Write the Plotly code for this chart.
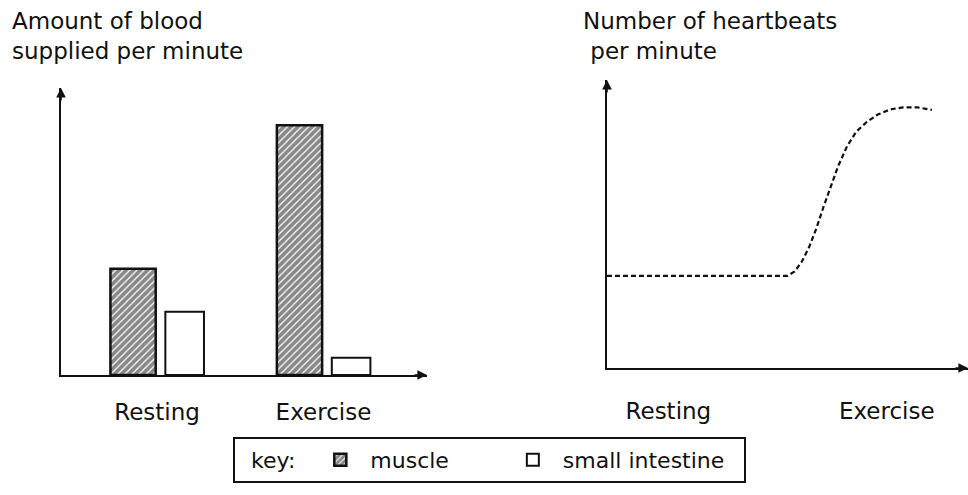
import plotly.graph_objects as go

# ---- data ----
phases = ["Resting", "Exercise"]
muscle_flow = [3.7, 8.7]          # blood supplied per minute (relative units)
intestine_flow = [2.2, 0.6]

time_pts = [0, 50, 52, 54, 56, 58, 60, 62, 64, 66.5, 69, 72, 75, 78.5, 82, 86, 90]
heart_rate = [32, 32, 33.5, 37, 42, 48.5, 56, 63, 70, 77, 82, 85.5, 88, 89.8, 90.5, 90.5, 89.6]
rate_ticks = ["Resting", "Exercise"]

W, H = 968, 495
FONT = "DejaVu Sans"
INK = "#111111"
PAD = "&nbsp;"


def px_x(p):
    return p / W


def px_y(p):
    return (H - p) / H


fig = go.Figure()

fig.add_trace(go.Bar(
    x=phases, y=muscle_flow, name="muscle" + PAD * 7,
    offset=-0.28, width=0.272,
    marker=dict(color="white", line=dict(color=INK, width=2.5),
                pattern=dict(shape="/", fgcolor="#111111", bgcolor="#ffffff",
                             size=5, solidity=0.75, fillmode="overlay")),
    xaxis="x", yaxis="y",
))
fig.add_trace(go.Bar(
    x=phases, y=intestine_flow, name="small intestine" + PAD * 2,
    offset=0.05, width=0.232,
    marker=dict(color="white", line=dict(color=INK, width=2)),
    xaxis="x", yaxis="y",
))
fig.add_trace(go.Scatter(
    x=time_pts, y=heart_rate, mode="lines", showlegend=False,
    line=dict(color=INK, width=2.2, dash="5px,3px", shape="linear"),
    xaxis="x2", yaxis="y2",
))

axis_common = dict(showline=True, linecolor=INK, linewidth=2, showgrid=False,
                   zeroline=False, ticks="", tickfont=dict(family=FONT, size=23, color=INK))

fig.update_layout(
    width=W, height=H,
    margin=dict(l=0, r=0, t=0, b=0),
    paper_bgcolor="white", plot_bgcolor="white",
    barmode="overlay",
    font=dict(family=FONT, color=INK),
    xaxis=dict(domain=[px_x(61), px_x(427)], range=[-0.577, 1.622],
               anchor="y", ticklabelstandoff=15, **axis_common),
    yaxis=dict(domain=[px_y(375), px_y(88)], range=[0, 10], anchor="x",
               showticklabels=False, **axis_common),
    xaxis2=dict(domain=[px_x(607), 1.0], range=[0, 100], anchor="y2",
                tickvals=[17, 77.5], ticktext=rate_ticks,
                ticklabelstandoff=21, **axis_common),
    yaxis2=dict(domain=[px_y(368), px_y(80)], range=[0, 100], anchor="x2",
                showticklabels=False, **axis_common),
    legend=dict(
        orientation="h", x=px_x(233), xanchor="left", y=px_y(437), yanchor="top",
        bordercolor=INK, borderwidth=2, bgcolor="white",
        font=dict(family=FONT, size=22, color=INK),
        title=dict(text=PAD * 2 + "key: ", side="left",
                   font=dict(family=FONT, size=22, color=INK)),
        itemwidth=50, traceorder="normal",
    ),
)

# axis titles
fig.add_annotation(text="Amount of blood<br>supplied per minute", x=px_x(10), y=px_y(6),
                   xref="paper", yref="paper", xanchor="left", yanchor="top",
                   align="left", showarrow=False, font=dict(family=FONT, size=23, color=INK))
fig.add_annotation(text="Number of heartbeats<br> per minute", x=px_x(581), y=px_y(6),
                   xref="paper", yref="paper", xanchor="left", yanchor="top",
                   align="left", showarrow=False, font=dict(family=FONT, size=23, color=INK))

# arrowheads on the axes
for xr, yr in (("x", "y"), ("x2", "y2")):
    fig.add_annotation(x=0, y=1, xref=f"{xr} domain", yref=f"{yr} domain", text="",
                       showarrow=True, ax=0, ay=14, arrowhead=2, arrowsize=1.2,
                       arrowwidth=1.6, arrowcolor=INK)
    fig.add_annotation(x=1, y=0, xref=f"{xr} domain", yref=f"{yr} domain", text="",
                       showarrow=True, ax=-14, ay=0, arrowhead=2, arrowsize=1.2,
                       arrowwidth=1.6, arrowcolor=INK)

fig.write_html("out.html")
